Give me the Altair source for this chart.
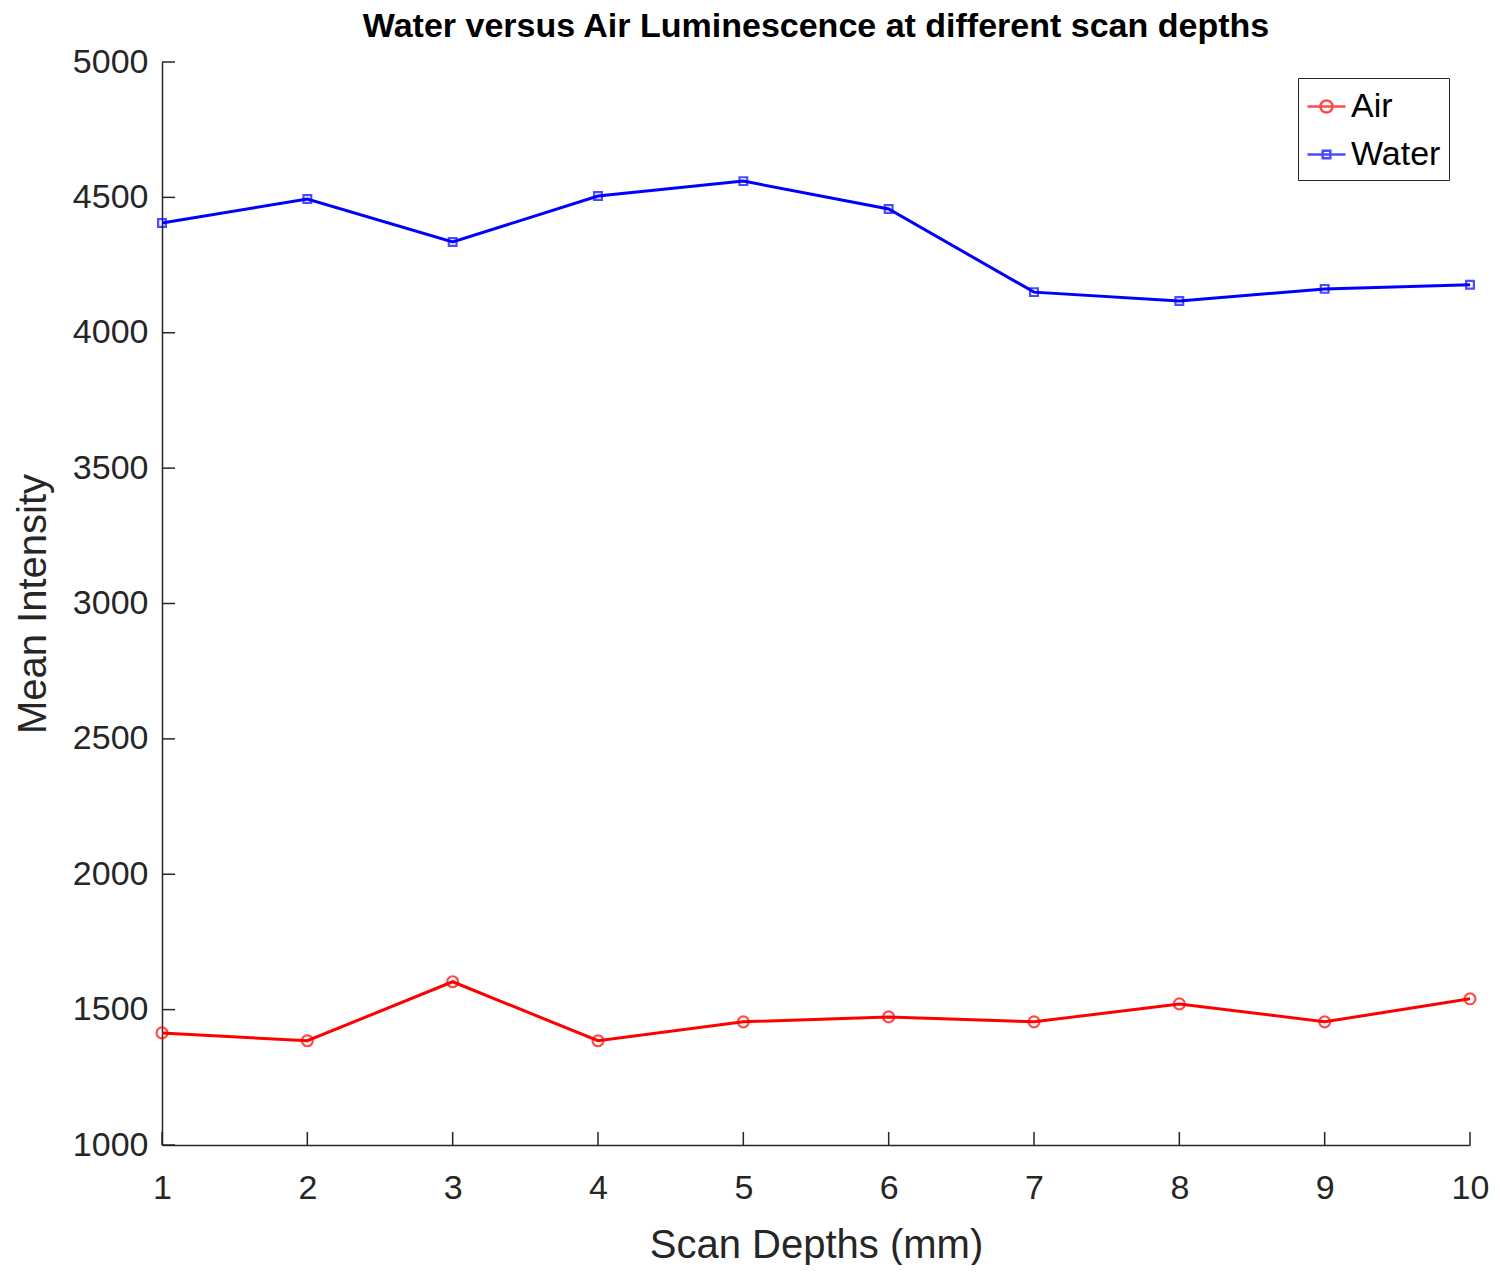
import altair as alt
import pandas as pd

depths = [1, 2, 3, 4, 5, 6, 7, 8, 9, 10]
air = [1414, 1385, 1603, 1385, 1455, 1473, 1455, 1521, 1455, 1540]
water = [4405, 4494, 4335, 4505, 4560, 4457, 4150, 4117, 4162, 4177]
x_ticks = [1, 2, 3, 4, 5, 6, 7, 8, 9, 10]
y_ticks = [1000, 1500, 2000, 2500, 3000, 3500, 4000, 4500, 5000]

rows = []
for d, a, w in zip(depths, air, water):
    rows.append({"depth": d, "value": a, "series": "Air"})
    rows.append({"depth": d, "value": w, "series": "Water"})
df = pd.DataFrame(rows)

W, H = 1308, 1083
FONT = "Liberation Sans"
AX = "#262626"

xs = alt.Scale(domain=[1, 10], nice=False)
ys = alt.Scale(domain=[1000, 5000], nice=False)
cs = alt.Scale(domain=["Air", "Water"], range=["#ff0000", "#0000ff"])

AIR_SYM = "M-1,0H1M0.32,0A0.32,0.32 0 1,1 -0.32,0A0.32,0.32 0 1,1 0.32,0"
WATER_SYM = "M-1,0H1M-0.2,-0.2H0.2V0.2H-0.2Z"
ss = alt.Scale(domain=["Air", "Water"], range=[AIR_SYM, WATER_SYM])

xaxis = alt.Axis(values=x_ticks, format="d", ticks=False, labelFontSize=34, labelFont=FONT,
                 labelColor=AX, labelPadding=26, domainColor=AX, domainWidth=1.5,
                 grid=False, title="Scan Depths (mm)", titleFontSize=40,
                 titleFont=FONT, titleFontWeight="normal", titleColor=AX,
                 titlePadding=20, labelFlush=False)
yaxis = alt.Axis(values=y_ticks, format="d", ticks=False, labelFontSize=34, labelFont=FONT,
                 labelColor=AX, labelPadding=14, domainColor=AX, domainWidth=1.5,
                 grid=False, title="Mean Intensity", titleFontSize=40,
                 titleFont=FONT, titleFontWeight="normal", titleColor=AX,
                 titlePadding=19, labelFlush=False)

leg = alt.Legend(
    title=None, orient="none", legendX=1136, legendY=16,
    labelFontSize=34, labelFont=FONT, labelColor="#000000", labelOffset=4,
    strokeColor=AX, fillColor="white", padding=8,
    symbolSize=1444, symbolStrokeWidth=2.5, rowPadding=10,
    symbolFillColor="transparent")

base = alt.Chart(df)
lines = base.mark_line(strokeWidth=3).encode(
    x=alt.X("depth:Q", scale=xs, axis=xaxis),
    y=alt.Y("value:Q", scale=ys, axis=yaxis),
    color=alt.Color("series:N", scale=cs, legend=leg),
)
air_pts = base.transform_filter("datum.series === 'Air'").mark_point(
    filled=False, strokeWidth=2.2, size=120, shape="circle").encode(
    x=alt.X("depth:Q", scale=xs),
    y=alt.Y("value:Q", scale=ys),
    color=alt.Color("series:N", scale=cs, legend=leg),
)
water_pts = base.transform_filter("datum.series === 'Water'").mark_point(
    filled=False, strokeWidth=2.2, size=60, shape="square").encode(
    x=alt.X("depth:Q", scale=xs),
    y=alt.Y("value:Q", scale=ys),
    color=alt.Color("series:N", scale=cs, legend=leg),
)
legend_layer = base.transform_filter("false").mark_point(filled=False).encode(
    x=alt.X("depth:Q", scale=xs),
    y=alt.Y("value:Q", scale=ys),
    color=alt.Color("series:N", scale=cs, legend=leg),
    shape=alt.Shape("series:N", scale=ss, legend=leg),
)

xt = pd.DataFrame({"t": x_ticks})
yt = pd.DataFrame({"t": y_ticks})
xtick = alt.Chart(xt).mark_rule(color=AX, strokeWidth=1.5).encode(
    x=alt.X("t:Q", scale=xs), y=alt.value(H), y2=alt.value(H - 13))
ytick = alt.Chart(yt).mark_rule(color=AX, strokeWidth=1.5).encode(
    y=alt.Y("t:Q", scale=ys), x=alt.value(0), x2=alt.value(13))

chart = alt.layer(xtick, ytick, lines, air_pts, water_pts, legend_layer).properties(
    width=W, height=H,
    title=alt.Title("Water versus Air Luminescence at different scan depths",
                    fontSize=34, font=FONT, fontWeight="bold", color="#000000",
                    anchor="middle", offset=1),
    autosize=alt.AutoSizeParams(type="none"),
    padding={"left": 154, "top": 54, "right": 20, "bottom": 120},
).configure_view(stroke=None)

chart.save("out.html", embed_options={"renderer": "svg", "actions": False})
